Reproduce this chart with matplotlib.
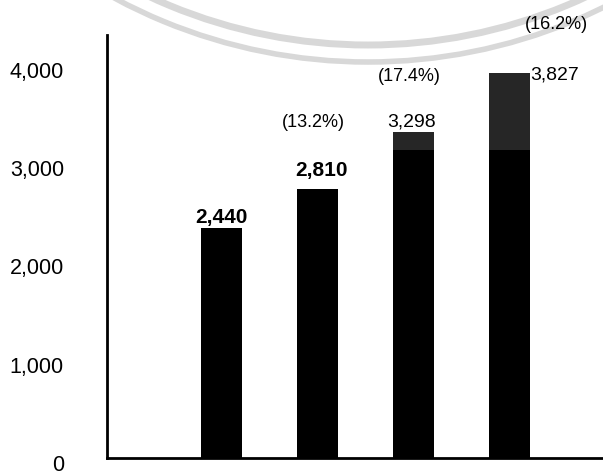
"""
Bar chart of yearly totals with growth rates, redrawn from a scanned figure.
"""

import matplotlib

matplotlib.use("Agg")
import matplotlib.pyplot as plt
from matplotlib.patches import Arc
from matplotlib.ticker import FuncFormatter
from matplotlib.transforms import ScaledTranslation


# Values printed on the bars
values = [2440, 2810, 3298, 3827]

# Bar heights as they are drawn in the scan (read against the y axis)
drawn_heights = [2338, 2735, 3314, 3914]

# Growth labels, for bars 2..4
growth_labels = ["(13.2%)", "(17.4%)", "(16.2%)"]

# Above this level the scan is a shade lighter
scan_band = 3131

y_ticks = [0, 1000, 2000, 3000, 4000]

plt.rcParams["font.family"] = ["Liberation Sans", "DejaVu Sans"]

figure = plt.figure(figsize=(6.03, 4.75), dpi=100)
axis = figure.add_axes([107 / 603, 17 / 475, 496 / 603, 423 / 475])
axis.patch.set_visible(False)

positions = list(range(len(values)))
lower = [min(h, scan_band) for h in drawn_heights]
upper = [max(h - scan_band, 0) for h in drawn_heights]

axis.bar(positions, lower, width=0.43, color="black")
axis.bar(positions, upper, width=0.43, bottom=lower, color="#262626")

axis.set_xlim(-1.193, 3.974)
axis.set_ylim(0, 4300)
axis.set_yticks(y_ticks)
axis.yaxis.set_major_formatter(FuncFormatter(lambda v, _: f"{int(v):,}"))
axis.set_xticks([])
axis.tick_params(axis="y", length=0, pad=31, labelsize=15.5)

for label in axis.get_yticklabels():
    label.set_transform(
        label.get_transform()
        + ScaledTranslation(0, -5 / 100, figure.dpi_scale_trans)
    )

for side in ["top", "right"]:
    axis.spines[side].set_visible(False)
for side in ["left", "bottom"]:
    axis.spines[side].set_linewidth(2)

# Value labels (offsets in pixels from the top of each bar)
value_offsets = [(0, 11, "center", "bold", 15), (4, 18, "center", "bold", 15),
                 (-2, 10, "center", "normal", 14), (21, -2, "left", "normal", 14)]

for index, (value, height) in enumerate(zip(values, drawn_heights)):
    dx, dy, align, weight, size = value_offsets[index]
    axis.annotate(
        f"{value:,}",
        (index, height),
        xytext=(dx, dy),
        textcoords="offset pixels",
        ha=align,
        va="center",
        fontsize=size,
        fontweight=weight,
    )

growth_offsets = [(-4, 66), (-4, 55), (47, 48)]

for index, text in enumerate(growth_labels):
    bar = index + 1
    dx, dy = growth_offsets[index]
    axis.annotate(
        text,
        (bar, drawn_heights[bar]),
        xytext=(dx, dy),
        textcoords="offset pixels",
        ha="center",
        va="center",
        fontsize=13,
        annotation_clip=False,
    )

# Faint seal watermark from the scan (diameters in pixels)
for diameter, width in [(1036, 5), (1070, 4)]:
    figure.add_artist(
        Arc(
            (368 / 603, (475 + 473) / 475),
            diameter / 603,
            diameter / 475,
            transform=figure.transFigure,
            color="#d8d8d8",
            linewidth=width,
            zorder=-1,
        )
    )

figure.savefig("out.png", dpi=100)
plt.close(figure)
